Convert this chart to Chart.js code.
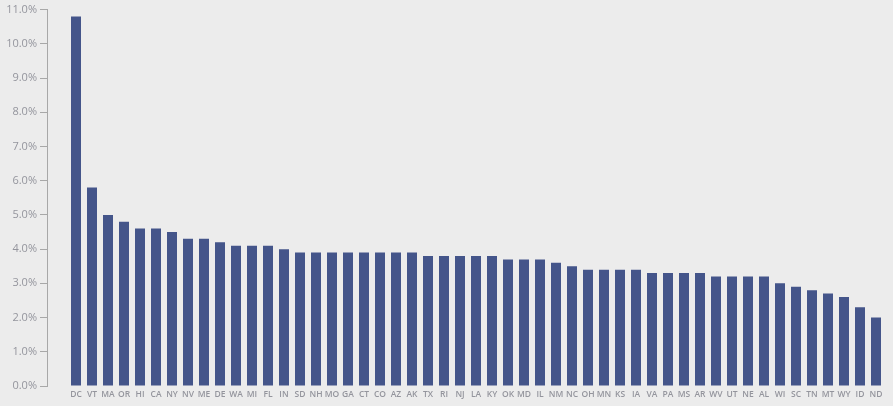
<!DOCTYPE html>
<html lang="en">
  <head>
    <meta charset="UTF-8" />
    <title>Rate by state</title>
    <style>
      html, body { margin: 0; padding: 0; background: #ececec; }
      #wrap { width: 893px; height: 406px; }
    </style>
  </head>
  <body>
    <div id="wrap"><canvas id="bar-chart"></canvas></div>
    <script src="https://cdn.jsdelivr.net/npm/chart.js@4/dist/chart.umd.min.js"></script>
    <script>
      var states = ['DC', 'VT', 'MA', 'OR', 'HI', 'CA', 'NY', 'NV', 'ME', 'DE', 'WA', 'MI', 'FL',
        'IN', 'SD', 'NH', 'MO', 'GA', 'CT', 'CO', 'AZ', 'AK', 'TX', 'RI', 'NJ', 'LA', 'KY',
        'OK', 'MD', 'IL', 'NM', 'NC', 'OH', 'MN', 'KS', 'IA', 'VA', 'PA', 'MS', 'AR', 'WV',
        'UT', 'NE', 'AL', 'WI', 'SC', 'TN', 'MT', 'WY', 'ID', 'ND'];
      var rates = [10.8, 5.8, 5.0, 4.8, 4.6, 4.6, 4.5, 4.3, 4.3, 4.2, 4.1, 4.1, 4.1,
        4.0, 3.9, 3.9, 3.9, 3.9, 3.9, 3.9, 3.9, 3.9, 3.8, 3.8, 3.8, 3.8, 3.8,
        3.7, 3.7, 3.7, 3.6, 3.5, 3.4, 3.4, 3.4, 3.4, 3.3, 3.3, 3.3, 3.3, 3.2,
        3.2, 3.2, 3.2, 3.0, 2.9, 2.8, 2.7, 2.6, 2.3, 2.0];

      // bars on a linear x scale so the first bar can sit away from the y axis line
      var punkti = [];
      for (var i = 0; i < states.length; i++) {
        punkti.push({ x: i, y: rates[i] });
      }

      var siva = '#94959d';

      new Chart(document.getElementById('bar-chart'), {
        type: 'bar',
        data: {
          datasets: [
            {
              data: punkti,
              backgroundColor: '#44558a',
              barPercentage: 0.625,
              categoryPercentage: 1,
            },
          ],
        },
        options: {
          responsive: true,
          maintainAspectRatio: false,
          animation: false,
          layout: { padding: { top: 7, right: 9, left: 0, bottom: 0 } },
          plugins: { legend: { display: false }, tooltip: { enabled: false } },
          scales: {
            x: {
              type: 'linear',
              offset: false,
              min: -1.8125,
              max: 50.5,
              grid: { display: false, offset: false, drawTicks: false },
              border: { display: false },
              afterBuildTicks: function (axis) {
                axis.ticks = states.map(function (s, i) { return { value: i }; });
              },
              afterFit: function (axis) {
                axis.height = 20;
                axis.paddingLeft = 0;
                axis.paddingRight = 0;
              },
              ticks: {
                autoSkip: false,
                maxRotation: 0,
                padding: 3,
                color: siva,
                font: { family: 'Open Sans', size: 8.5, weight: '600' },
                callback: function (v) { return states[v]; },
              },
            },
            y: {
              min: 0,
              max: 11,
              afterFit: function (axis) { axis.width = 47; },
              grid: { display: true, drawOnChartArea: false, tickLength: 7, color: '#a8a8a8' },
              border: { display: true, color: '#a8a8a8' },
              ticks: {
                stepSize: 1,
                padding: 3,
                color: siva,
                font: { family: 'Open Sans', size: 11 },
                callback: function (v) { return v.toFixed(1) + '%'; },
              },
            },
          },
        },
      });
    </script>
  </body>
</html>
